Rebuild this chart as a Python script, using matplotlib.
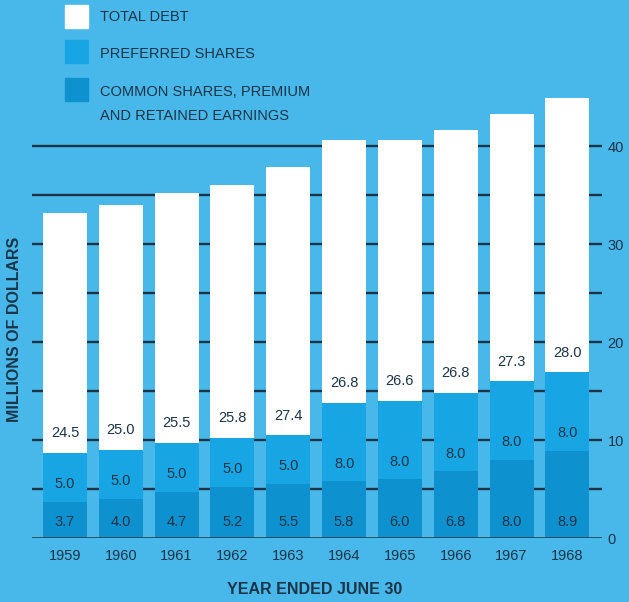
import numpy as np
import matplotlib
matplotlib.use("Agg")
import matplotlib.pyplot as plt
from matplotlib.patches import Rectangle

years = ["1959", "1960", "1961", "1962", "1963", "1964", "1965", "1966", "1967", "1968"]
common = [3.7, 4.0, 4.7, 5.2, 5.5, 5.8, 6.0, 6.8, 8.0, 8.9]
preferred = [5.0, 5.0, 5.0, 5.0, 5.0, 8.0, 8.0, 8.0, 8.0, 8.0]
debt = [24.5, 25.0, 25.5, 25.8, 27.4, 26.8, 26.6, 26.8, 27.3, 28.0]

legend_labels = ["TOTAL DEBT", "PREFERRED SHARES", "COMMON SHARES, PREMIUM", "AND RETAINED EARNINGS"]

bg = "#48b8ea"
c_pref = "#18a5e3"
c_common = "#0e92cf"
c_debt = "#ffffff"
ink = "#1b3447"

plt.rcParams['font.family'] = ['Liberation Sans', 'DejaVu Sans']

fig = plt.figure(figsize=(6.29, 6.02), dpi=100, facecolor=bg)
W, H = 629, 602
# axes spans x 32..602 px, baseline at y=538 px, 9.8 px per million
y_top = 46
ax = fig.add_axes([32 / W, (H - 538) / H, 570 / W, y_top * 9.8 / H])
ax.set_facecolor(bg)

x = np.arange(len(years))
common = np.array(common)
preferred = np.array(preferred)
debt = np.array(debt)

# grid lines behind bars
for lvl in range(5, 45, 5):
    ax.axhline(lvl, color=ink, lw=1.7, zorder=1)
ax.axhline(0, color=ink, lw=1.8, zorder=3)

bw = 0.79
ax.bar(x, common, bw, color=c_common, zorder=2)
ax.bar(x, preferred, bw, bottom=common, color=c_pref, zorder=2)
ax.bar(x, debt, bw, bottom=common + preferred, color=c_debt, zorder=2)

fs = 10.5
for i in range(len(years)):
    ax.text(x[i], 1.6, f"{common[i]:.1f}", ha="center", va="center", fontsize=fs, color=ink, zorder=4)
    ax.text(x[i], common[i] + 1.8, f"{preferred[i]:.1f}", ha="center", va="center", fontsize=fs, color=ink, zorder=4)
    ax.text(x[i], common[i] + preferred[i] + 2.0, f"{debt[i]:.1f}", ha="center", va="center", fontsize=fs, color=ink, zorder=4)

ax.set_xlim(-0.59, 9.62)
ax.set_ylim(0, y_top)
ax.set_xticks(x)
ax.set_xticklabels(years, fontsize=fs, color=ink)
ax.set_yticks(range(0, 50, 10))
ax.yaxis.tick_right()
ax.tick_params(axis="y", length=0, pad=4, labelsize=fs, labelcolor=ink)
ax.tick_params(axis="x", length=0, pad=8)
for s in ax.spines.values():
    s.set_visible(False)

fig.text(315 / W, 1 - 590 / H, "YEAR ENDED JUNE 30", ha="center", va="center",
         fontsize=11.5, fontweight="bold", color=ink)
fig.text(15 / W, 1 - 329 / H, "MILLIONS OF DOLLARS", rotation=90, ha="center", va="center",
         fontsize=11.5, fontweight="bold", color=ink)

# legend
sq = [(5, c_debt), (40, c_pref), (78, c_common)]
for top, col in sq:
    fig.patches.append(Rectangle((65 / W, 1 - (top + 23) / H), 23 / W, 23 / H,
                                 transform=fig.transFigure, color=col, figure=fig))
for ty, lab in zip([17, 54, 92, 116], legend_labels):
    fig.text(100 / W, 1 - ty / H, lab, ha="left", va="center", fontsize=fs, color=ink)

fig.savefig("out.png", dpi=100, facecolor=bg)
